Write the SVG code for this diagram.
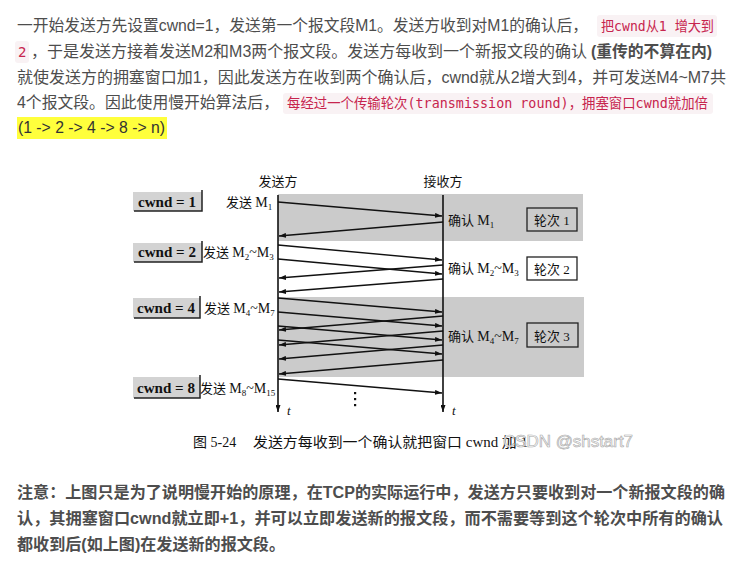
<svg xmlns="http://www.w3.org/2000/svg" width="741" height="565" viewBox="0 0 741 565">
<style>
.p{font-family:"Liberation Sans","Noto Sans CJK SC",sans-serif;font-size:16px;fill:#4d4d4d}
.b{font-weight:bold}
.c{font-family:"DejaVu Sans Mono","Noto Sans CJK SC",monospace;font-size:14px;fill:#c7254e}
.cb{fill:#f9f2f4}
.f{font-family:"Liberation Serif","Noto Sans CJK SC",serif;font-size:13px;fill:#111}
.m{font-size:14px}
.sub{font-size:9px}
.shade{fill:#cbcbcb}
.cw{fill:#d3d3d3}
.cws{fill:none;stroke:#222;stroke-width:1.5}
.cwt{font-family:"Liberation Serif",serif;font-size:14px;font-weight:bold;fill:#111}
.rb{stroke:#222;stroke-width:1.3}
.ln{stroke:#111;stroke-width:1.4;fill:none;marker-end:url(#ah)}
.ax{stroke:#111;stroke-width:1.6;fill:none;marker-end:url(#ah)}
</style>
<defs>
<marker id="ah" markerUnits="userSpaceOnUse" markerWidth="7" markerHeight="5" refX="7" refY="2.5" orient="auto">
<path d="M0,0 L7,2.5 L0,5 z" fill="#111"/>
</marker>
</defs>
<rect width="741" height="565" fill="#ffffff"/>

<g id="header">
<text class="p" x="17" y="31" textLength="571" lengthAdjust="spacingAndGlyphs">一开始发送方先设置cwnd=1，发送第一个报文段M1。发送方收到对M1的确认后，</text>
<rect class="cb" x="597" y="15" width="120" height="22" rx="3"/>
<text class="c" x="601" y="31" textLength="113" lengthAdjust="spacingAndGlyphs">把cwnd从1 增大到</text>
<rect class="cb" x="15" y="41" width="14" height="22" rx="3"/>
<text class="c" x="18" y="57">2</text>
<text class="p" x="31" y="57" textLength="556" lengthAdjust="spacingAndGlyphs">，于是发送方接着发送M2和M3两个报文段。发送方每收到一个新报文段的确认</text>
<text class="p b" x="591" y="57" textLength="121" lengthAdjust="spacingAndGlyphs">(重传的不算在内)</text>
<text class="p" x="17" y="83" textLength="709" lengthAdjust="spacingAndGlyphs">就使发送方的拥塞窗口加1，因此发送方在收到两个确认后，cwnd就从2增大到4，并可发送M4~M7共</text>
<text class="p" x="17" y="108" textLength="262" lengthAdjust="spacingAndGlyphs">4个报文段。因此使用慢开始算法后，</text>
<rect class="cb" x="283" y="93" width="430" height="21" rx="3"/>
<text class="c" x="287" y="108" textLength="421" lengthAdjust="spacingAndGlyphs">每经过一个传输轮次(transmission round)，拥塞窗口cwnd就加倍</text>
<rect x="17" y="117" width="150" height="22" fill="#ffff3c"/>
<text class="p" x="18" y="133" textLength="147" lengthAdjust="spacingAndGlyphs" style="fill:#333">(1 -&gt; 2 -&gt; 4 -&gt; 8 -&gt; n)</text>
</g>

<g id="bands">
<rect class="shade" x="278" y="194" width="305" height="47"/>
<rect class="shade" x="278" y="297" width="306" height="80"/>
</g>

<g id="sender-label"><text class="f" x="278" y="186" text-anchor="middle">发送方</text></g>
<g id="receiver-label"><text class="f" x="443" y="186" text-anchor="middle">接收方</text></g>

<g id="cwnd1">
<rect class="cw" x="133" y="192" width="69" height="19"/>
<polyline class="cws" points="202,190 202,211 134,211"/>
<text class="cwt" x="167" y="207" text-anchor="middle" textLength="58" lengthAdjust="spacingAndGlyphs">cwnd = 1</text>
</g>
<g id="cwnd2">
<rect class="cw" x="133" y="243" width="69" height="19"/>
<polyline class="cws" points="202,241 202,262 134,262"/>
<text class="cwt" x="167" y="257" text-anchor="middle" textLength="58" lengthAdjust="spacingAndGlyphs">cwnd = 2</text>
</g>
<g id="cwnd4">
<rect class="cw" x="133" y="298" width="67" height="20"/>
<polyline class="cws" points="200,296 200,318 134,318"/>
<text class="cwt" x="166" y="313" text-anchor="middle" textLength="58" lengthAdjust="spacingAndGlyphs">cwnd = 4</text>
</g>
<g id="cwnd8">
<rect class="cw" x="133" y="377" width="67" height="21"/>
<polyline class="cws" points="200,375 200,398 134,398"/>
<text class="cwt" x="166" y="393" text-anchor="middle" textLength="58" lengthAdjust="spacingAndGlyphs">cwnd = 8</text>
</g>

<g id="send1"><text class="f" x="226" y="207">发送 <tspan class="m">M</tspan><tspan class="sub" dy="3">1</tspan></text></g>
<g id="send2"><text class="f" x="203" y="257">发送 <tspan class="m">M</tspan><tspan class="sub" dy="3">2</tspan><tspan class="m" dy="-3">~M</tspan><tspan class="sub" dy="3">3</tspan></text></g>
<g id="send3"><text class="f" x="204" y="313">发送 <tspan class="m">M</tspan><tspan class="sub" dy="3">4</tspan><tspan class="m" dy="-3">~M</tspan><tspan class="sub" dy="3">7</tspan></text></g>
<g id="send4"><text class="f" x="200" y="393">发送 <tspan class="m">M</tspan><tspan class="sub" dy="3">8</tspan><tspan class="m" dy="-3">~M</tspan><tspan class="sub" dy="3">15</tspan></text></g>

<g id="ack1"><text class="f" x="448" y="225">确认 <tspan class="m">M</tspan><tspan class="sub" dy="3">1</tspan></text></g>
<g id="ack2"><text class="f" x="448" y="273">确认 <tspan class="m">M</tspan><tspan class="sub" dy="3">2</tspan><tspan class="m" dy="-3">~M</tspan><tspan class="sub" dy="3">3</tspan></text></g>
<g id="ack3"><text class="f" x="448" y="341">确认 <tspan class="m">M</tspan><tspan class="sub" dy="3">4</tspan><tspan class="m" dy="-3">~M</tspan><tspan class="sub" dy="3">7</tspan></text></g>

<g id="round1">
<rect class="rb" x="527" y="208" width="50" height="23" fill="#cbcbcb"/>
<text class="f" x="552" y="225" text-anchor="middle">轮次 1</text>
</g>
<g id="round2">
<rect class="rb" x="527" y="257" width="50" height="23" fill="#ffffff"/>
<text class="f" x="552" y="274" text-anchor="middle">轮次 2</text>
</g>
<g id="round3">
<rect class="rb" x="527" y="323" width="51" height="24" fill="#cbcbcb"/>
<text class="f" x="552" y="341" text-anchor="middle">轮次 3</text>
</g>

<g id="connectors">
<line class="ax" x1="278" y1="195" x2="278" y2="412"/>
<line class="ax" x1="443" y1="195" x2="443" y2="412"/>
<line class="ln" x1="278" y1="202" x2="442" y2="216"/>
<line class="ln" x1="443" y1="222" x2="279" y2="236"/>
<line class="ln" x1="278" y1="245" x2="442" y2="260"/>
<line class="ln" x1="278" y1="259" x2="442" y2="274"/>
<line class="ln" x1="443" y1="265" x2="279" y2="278"/>
<line class="ln" x1="443" y1="279" x2="279" y2="292"/>
<line class="ln" x1="278" y1="298" x2="442" y2="312"/>
<line class="ln" x1="278" y1="312" x2="442" y2="326"/>
<line class="ln" x1="278" y1="326" x2="442" y2="340"/>
<line class="ln" x1="278" y1="340" x2="442" y2="354"/>
<line class="ln" x1="443" y1="316" x2="279" y2="330"/>
<line class="ln" x1="443" y1="331" x2="279" y2="345"/>
<line class="ln" x1="443" y1="345" x2="279" y2="359"/>
<line class="ln" x1="443" y1="360" x2="279" y2="374"/>
<line class="ln" x1="278" y1="379" x2="442" y2="393"/>
</g>

<g id="dots" fill="#111">
<rect x="354" y="392" width="2.2" height="2.2"/>
<rect x="354" y="398" width="2.2" height="2.2"/>
<rect x="354" y="404" width="2.2" height="2.2"/>
</g>
<g id="t-labels">
<text class="f" x="287" y="415" font-style="italic">t</text>
<text class="f" x="452" y="415" font-style="italic">t</text>
</g>

<g id="caption">
<text class="f" x="193" y="447" style="font-size:14px">图 5-24</text>
<text class="f" x="253" y="447" style="font-size:14px" textLength="275" lengthAdjust="spacingAndGlyphs">发送方每收到一个确认就把窗口 cwnd 加 1</text>
<text x="503" y="447" textLength="130" lengthAdjust="spacingAndGlyphs" style="font-family:'Liberation Sans',sans-serif;font-size:16px;fill:#ffffff;fill-opacity:0.85;stroke:#a8a8a8;stroke-width:0.6">CSDN @shstart7</text>
</g>

<g id="note">
<text class="p b" x="17" y="498" textLength="708" lengthAdjust="spacingAndGlyphs">注意：上图只是为了说明慢开始的原理，在TCP的实际运行中，发送方只要收到对一个新报文段的确</text>
<text class="p b" x="17" y="524" textLength="706" lengthAdjust="spacingAndGlyphs">认，其拥塞窗口cwnd就立即+1，并可以立即发送新的报文段，而不需要等到这个轮次中所有的确认</text>
<text class="p b" x="17" y="550" textLength="268" lengthAdjust="spacingAndGlyphs">都收到后(如上图)在发送新的报文段。</text>
</g>
</svg>
